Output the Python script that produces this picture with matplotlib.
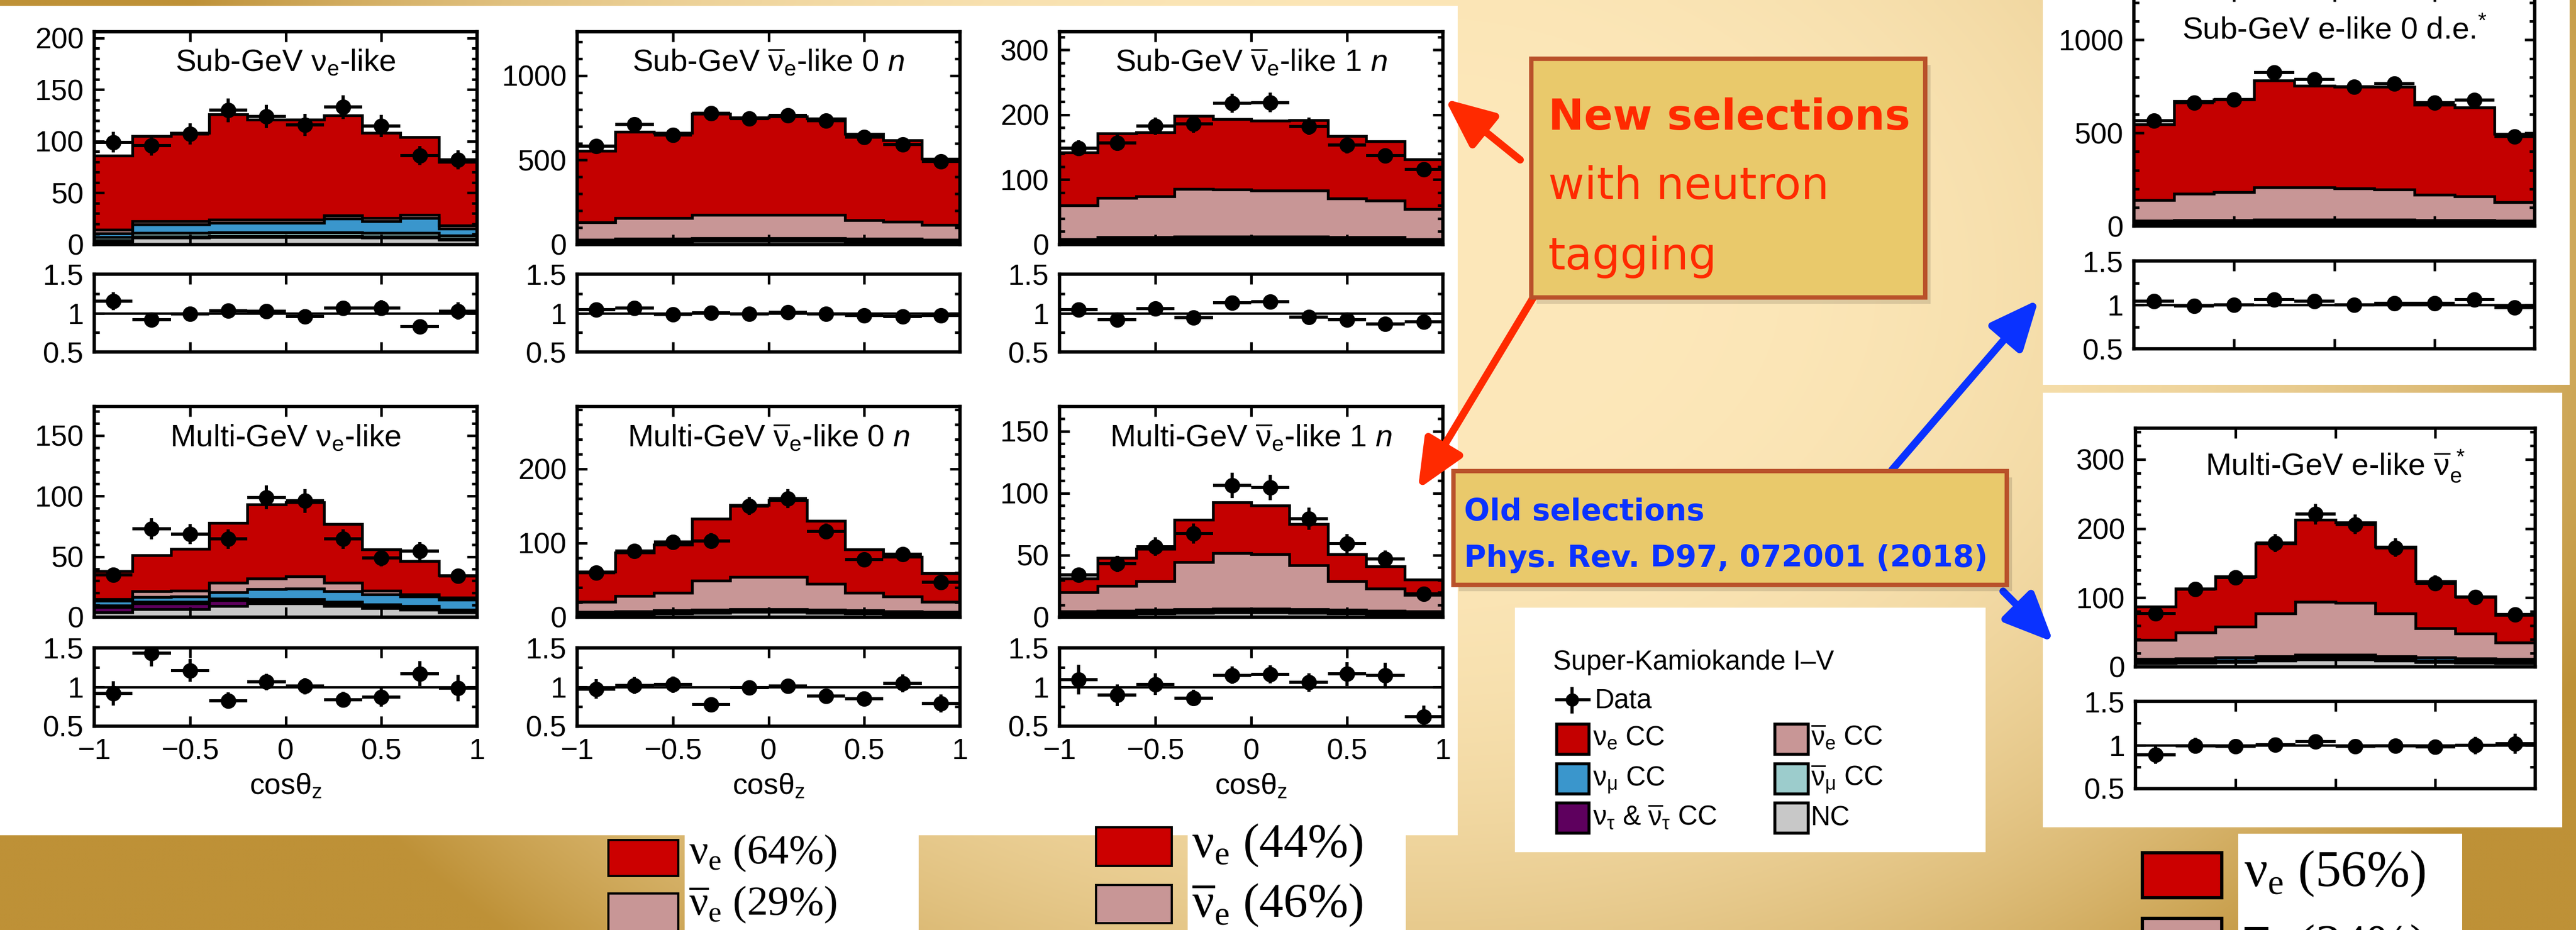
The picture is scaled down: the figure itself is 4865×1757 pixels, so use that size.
import numpy as np
import matplotlib
matplotlib.use('Agg')
import matplotlib.pyplot as plt
from matplotlib.patches import Rectangle, FancyArrowPatch
from matplotlib.ticker import MultipleLocator, FixedLocator, FuncFormatter, NullLocator

plt.rcParams['font.family'] = ['Liberation Sans', 'DejaVu Sans']
plt.rcParams['mathtext.fontset'] = 'custom'
plt.rcParams['mathtext.rm'] = 'Liberation Sans'
plt.rcParams['mathtext.it'] = 'Liberation Sans:italic'
plt.rcParams['mathtext.bf'] = 'Liberation Sans:bold'
plt.rcParams['mathtext.sf'] = 'Liberation Serif'

# ---------------- data (10 bins in cos(theta_z) from -1 to 1) ----------------
edges = np.linspace(-1, 1, 11)

# Sub-GeV nu_e-like
p1_total = [86, 105, 108, 126, 121, 121, 125, 108, 104, 80]
p1_data = [99, 96, 107, 130, 124, 116, 133, 115, 86, 82]
p1_nc = [3, 6.5, 6.5, 7, 7, 7, 7, 6.5, 6.5, 4.5]
p1_nutau = [1, 1, 1, 1, 1, 1, 1, 1, 1, 1]
p1_numubar = [3, 4, 4, 4, 4, 4, 4, 4, 4, 3]
p1_numu = [4, 8, 8, 9, 9, 9, 13, 11, 14, 7]
p1_nuebar = [3.5, 3, 3, 3, 3, 3, 3, 3, 3, 3]

# Sub-GeV nu_e-bar-like 0 n
p2_total = [556, 668, 661, 773, 752, 759, 745, 654, 619, 507]
p2_data = [582, 710, 650, 776, 745, 766, 735, 635, 592, 492]
p2_nc = [14, 18, 18, 22, 22, 22, 22, 18, 18, 14]
p2_nutau = [1, 1, 1, 1, 1, 1, 1, 1, 1, 1]
p2_numubar = [6, 6, 6, 6, 6, 6, 6, 6, 6, 6]
p2_numu = [8, 8, 8, 8, 8, 8, 8, 8, 8, 8]
p2_nuebar = [104, 124, 124, 138, 138, 138, 138, 110, 103, 86]

# Sub-GeV nu_e-bar-like 1 n
p3_total = [142, 171.5, 173, 198, 193, 191, 192, 167, 159, 131]
p3_data = [148.5, 157, 182.5, 186, 218, 219, 182, 153, 137, 116]
p3_nc = [3, 4, 4, 5, 5, 5, 5, 4, 4, 3]
p3_nutau = [0.5, 0.5, 0.5, 0.5, 0.5, 0.5, 0.5, 0.5, 0.5, 0.5]
p3_numubar = [2, 3, 3, 3, 3, 3, 3, 3, 3, 2]
p3_numu = [3, 4, 4, 4, 4, 4, 4, 4, 4, 3]
p3_nuebar = [51.5, 60.5, 62.5, 73.5, 72.5, 70.5, 70.5, 59.5, 56, 46.5]

# Multi-GeV nu_e-like
p4_total = [38, 51, 56.5, 78, 93, 95, 77, 56, 46.5, 34.5]
p4_data = [35, 73, 68.5, 64.5, 99, 96, 64.5, 49, 54.5, 34]
p4_nc = [4, 6.5, 6.5, 9, 11.5, 11.5, 9, 7.5, 6, 4]
p4_nutau = [4.5, 5, 5, 5, 2, 2, 2, 1.5, 1.5, 1]
p4_numubar = [1, 1, 1, 1.5, 1.5, 1.5, 1.5, 1.5, 1.5, 1]
p4_numu = [4, 4, 4.5, 5, 8, 8.5, 9, 8.5, 8, 8.5]
p4_nuebar = [1.5, 5, 5, 8, 9, 10, 7, 3, 2, 1.5]

# Multi-GeV nu_e-bar-like 0 n
p5_total = [61.5, 87, 98, 133, 151, 158, 130, 91.5, 81, 59.5]
p5_data = [60, 89, 101, 103, 150, 160, 115.5, 78, 85, 47]
p5_nc = [3, 4, 5, 6, 7, 7, 6, 5, 4, 3]
p5_nutau = [0.5, 0.5, 0.5, 0.5, 0.5, 0.5, 0.5, 0.5, 0.5, 0.5]
p5_numubar = [1.5, 1.5, 1.5, 1.5, 1.5, 1.5, 1.5, 1.5, 1.5, 1.5]
p5_numu = [2, 2, 2, 2, 2, 2, 2, 2, 2, 2]
p5_nuebar = [14, 20.7, 24, 39, 43, 43, 35, 24, 20, 14]

# Multi-GeV nu_e-bar-like 1 n
p6_total = [31, 48, 55, 78.6, 92.6, 90, 75, 51, 41, 30.5]
p6_data = [34, 43, 57, 67.5, 106.5, 104.5, 79.5, 59.5, 47, 19]
p6_nc = [2, 2.5, 3, 3.5, 4, 4, 3.5, 3, 2.5, 2]
p6_nutau = [0.3, 0.3, 0.3, 0.3, 0.3, 0.3, 0.3, 0.3, 0.3, 0.3]
p6_numubar = [1, 1, 1, 1, 1, 1, 1, 1, 1, 1]
p6_numu = [1.5, 1.5, 1.5, 1.5, 1.5, 1.5, 1.5, 1.5, 1.5, 1.5]
p6_nuebar = [15.2, 19.7, 23.2, 38.3, 44.7, 43.9, 35.7, 23.2, 17.7, 13.2]

# Sub-GeV e-like 0 d.e. (old selection)
r1_total = [545, 672, 681, 781, 753, 747, 749, 651, 638, 495]
r1_data = [567, 662, 681, 826, 787, 747, 764, 664, 676, 480]
r1_nc = [12, 15, 15, 18, 18, 18, 18, 15, 15, 12]
r1_nutau = [1, 1, 1, 1, 1, 1, 1, 1, 1, 1]
r1_numubar = [6, 6, 6, 6, 6, 6, 6, 6, 6, 6]
r1_numu = [10, 10, 10, 10, 10, 10, 10, 10, 10, 10]
r1_nuebar = [111, 142, 149, 173, 173, 167, 160, 136, 126, 98]

# Multi-GeV e-like nu_e-bar (old selection)
r2_total = [87.5, 113.5, 131, 178.5, 212.5, 209, 174, 124, 101.5, 75]
r2_data = [77.5, 112.5, 129, 179, 221, 206, 172.5, 121, 101, 76]
r2_nc = [5, 6, 7, 9, 11, 11, 9, 7, 6, 5]
r2_nutau = [0.5, 0.5, 0.5, 0.5, 0.5, 0.5, 0.5, 0.5, 0.5, 0.5]
r2_numubar = [2, 2, 2, 2, 2, 2, 2, 2, 2, 2]
r2_numu = [4, 4, 4, 4, 4, 4, 4, 4, 4, 4]
r2_nuebar = [27.5, 37.5, 45, 62, 76.5, 75, 62, 42.5, 36, 23.5]

C_NUE = '#c40000'
C_NUEBAR = '#c89696'
C_NUMU = '#3a96cc'
C_NUMUBAR = '#9ccccc'
C_NUTAU = '#5e005e'
C_NC = '#c8c8c8'

NUBAR = r'$\overline{\mathrm{\nu}}$'

W, H = 4865, 1757
fig = plt.figure(figsize=(W / 100, H / 100), dpi=100)

# ---------------- background ----------------
bg = fig.add_axes([0, 0, 1, 1], zorder=-10)
gx = np.linspace(0, 1, 487)
gy = np.linspace(0, 1, 176)
X, Y = np.meshgrid(gx, gy)
t = np.clip(np.sqrt(((X - 0.55) / 0.5) ** 2 + ((Y - 0.3) / 1.0) ** 2), 0, 1) ** 3
cream = np.array([253, 232, 186]) / 255
gold = np.array([190, 145, 55]) / 255
grad = cream * (1 - t[..., None]) + gold * t[..., None]
bg.imshow(grad, extent=(0, W, H, 0), aspect='auto', interpolation='bilinear')
bg.set_xlim(0, W)
bg.set_ylim(H, 0)
bg.axis('off')
for (x, y, w, h) in [(0, 11, 2753, 1567), (3858, 0, 995, 727), (3858, 742, 981, 821)]:
    bg.add_patch(Rectangle((x, y), w, h, fc='white', ec='none'))

LW = 3.8
fmt_num = FuncFormatter(lambda v, p: f'{v:g}'.replace('-', '\u2212'))


def setup_ticks(ax, ymaj, ymin):
    ax.set_xlim(-1, 1)
    ax.xaxis.set_major_locator(FixedLocator([-1, -0.5, 0, 0.5, 1]))
    ax.xaxis.set_minor_locator(NullLocator())
    ax.yaxis.set_major_locator(MultipleLocator(ymaj))
    ax.yaxis.set_minor_locator(MultipleLocator(ymin))
    ax.yaxis.set_major_formatter(fmt_num)
    ax.xaxis.set_major_formatter(fmt_num)
    ax.tick_params(which='both', direction='in', top=True, right=True, width=3.5,
                   labelsize=40, pad=14)
    ax.tick_params(which='major', length=14)
    ax.tick_params(which='minor', length=7)
    for s in ax.spines.values():
        s.set_linewidth(4.6)


def panel(px, main_y, ratio_y, ylim, ymaj, ymin, title, title_y,
          nc, nutau, numubar, numu, nuebar, total, data, xlabels):
    x0, x1 = px
    yt, yb = main_y
    ax = fig.add_axes([x0 / W, 1 - yb / H, (x1 - x0) / W, (yb - yt) / H])
    comps = [(nc, C_NC), (nutau, C_NUTAU), (numubar, C_NUMUBAR), (numu, C_NUMU),
             (nuebar, C_NUEBAR)]
    cum = np.zeros(10)
    tops = []
    for vals, col in comps:
        top = cum + np.asarray(vals, float)
        ax.stairs(top, edges, baseline=cum, fill=True, color=col, lw=0, zorder=1)
        tops.append(top)
        cum = top
    tot = np.asarray(total, float)
    ax.stairs(tot, edges, baseline=cum, fill=True, color=C_NUE, lw=0, zorder=1)
    tops.append(tot)
    for top in tops:
        ax.stairs(top, edges, baseline=None, color='k', lw=LW, zorder=2)
    d = np.asarray(data, float)
    centers = 0.5 * (edges[1:] + edges[:-1])
    ax.errorbar(centers, d, yerr=np.sqrt(d), xerr=np.diff(edges) / 2, fmt='o', color='k',
                ms=20, elinewidth=4.3, capsize=0, zorder=5)
    ax.set_ylim(*ylim)
    setup_ticks(ax, ymaj, ymin)
    ax.tick_params(axis='x', labelbottom=False)
    ax.text(0.5, (yb - title_y) / (yb - yt), title, transform=ax.transAxes,
            ha='center', va='baseline', fontsize=42, zorder=6)

    rt, rb = ratio_y
    ar = fig.add_axes([x0 / W, 1 - rb / H, (x1 - x0) / W, (rb - rt) / H])
    ar.axhline(1, color='k', lw=3.3, zorder=3)
    ar.errorbar(centers, d / tot, yerr=np.sqrt(d) / tot, xerr=np.diff(edges) / 2, fmt='o',
                color='k', ms=20, elinewidth=4.3, capsize=0, zorder=5)
    ar.set_ylim(0.5, 1.5)
    setup_ticks(ar, 0.5, 0.25)
    ar.tick_params(axis='x', labelbottom=xlabels, pad=16)
    return ax, ar


TOP_M, TOP_R = (60, 462), (518, 665)
BOT_M, BOT_R = (768, 1166), (1224, 1372)
COLS = [(178, 901), (1090, 1813), (2001, 2725)]

panel(COLS[0], TOP_M, TOP_R, (0, 206), 50, 10, r'Sub-GeV $\mathrm{\nu}_\mathrm{e}$-like', 134,
      p1_nc, p1_nutau, p1_numubar, p1_numu, p1_nuebar, p1_total, p1_data, False)
panel(COLS[1], TOP_M, TOP_R, (0, 1260), 500, 100,
      r'Sub-GeV $\overline{\mathrm{\nu}}_\mathrm{e}$-like 0 $n$', 134,
      p2_nc, p2_nutau, p2_numubar, p2_numu, p2_nuebar, p2_total, p2_data, False)
panel(COLS[2], TOP_M, TOP_R, (0, 328), 100, 20,
      r'Sub-GeV $\overline{\mathrm{\nu}}_\mathrm{e}$-like 1 $n$', 134,
      p3_nc, p3_nutau, p3_numubar, p3_numu, p3_nuebar, p3_total, p3_data, False)
panel(COLS[0], BOT_M, BOT_R, (0, 174), 50, 10, r'Multi-GeV $\mathrm{\nu}_\mathrm{e}$-like', 843,
      p4_nc, p4_nutau, p4_numubar, p4_numu, p4_nuebar, p4_total, p4_data, True)
panel(COLS[1], BOT_M, BOT_R, (0, 284), 100, 20,
      r'Multi-GeV $\overline{\mathrm{\nu}}_\mathrm{e}$-like 0 $n$', 843,
      p5_nc, p5_nutau, p5_numubar, p5_numu, p5_nuebar, p5_total, p5_data, True)
panel(COLS[2], BOT_M, BOT_R, (0, 170), 50, 10,
      r'Multi-GeV $\overline{\mathrm{\nu}}_\mathrm{e}$-like 1 $n$', 843,
      p6_nc, p6_nutau, p6_numubar, p6_numu, p6_nuebar, p6_total, p6_data, True)
panel((4030, 4787), (-16, 427), (493, 659), (0, 1260), 500, 100,
      r'Sub-GeV e-like 0 d.e.$^{*}$', 72,
      r1_nc, r1_nutau, r1_numubar, r1_numu, r1_nuebar, r1_total, r1_data, False)
panel((4033, 4788), (809, 1260), (1325, 1490), (0, 345), 100, 20,
      r'Multi-GeV e-like $\overline{\mathrm{\nu}}_\mathrm{e}^{\,*}$', 897,
      r2_nc, r2_nutau, r2_numubar, r2_numu, r2_nuebar, r2_total, r2_data, False)

# ---------------- foreground annotations ----------------
fg = fig.add_axes([0, 0, 1, 1], zorder=10)
fg.set_xlim(0, W)
fg.set_ylim(H, 0)
fg.axis('off')
fg.patch.set_alpha(0)

for (x0, x1) in COLS:
    fg.text((x0 + x1) / 2, 1500, r'cos$\mathrm{\theta}_\mathrm{z}$', ha='center', va='baseline',
            fontsize=40)

RED = '#ff2a00'
BLUE = '#0a32ff'


def arrow(p0, p1, color):
    fg.add_patch(FancyArrowPatch(p0, p1, arrowstyle='-|>,head_length=1.4,head_width=0.62',
                                 mutation_scale=40, color=color, lw=10,
                                 shrinkA=0, shrinkB=0, zorder=2))


arrow((2871, 302), (2729, 187), RED)
arrow((2900, 555), (2678, 924), RED)
arrow((3573, 888), (3850, 566), BLUE)
arrow((3783, 1117), (3878, 1213), BLUE)

BOX_FC = '#e9c96b'
BOX_EC = '#b9512a'
fg.add_patch(Rectangle((2902, 123), 744, 451, fc=(0, 0, 0, 0.12), ec='none', zorder=3))
fg.add_patch(Rectangle((2892, 111), 744, 451, fc=BOX_FC, ec=BOX_EC, lw=6, zorder=4))
fg.text(2924, 245, 'New selections', color=RED, fontsize=58, fontweight='bold',
        family='DejaVu Sans', va='baseline', zorder=5)
fg.text(2924, 376, 'with neutron', color=RED, fontsize=60, family='DejaVu Sans',
        va='baseline', zorder=5)
fg.text(2924, 509, 'tagging', color=RED, fontsize=60, family='DejaVu Sans',
        va='baseline', zorder=5)

fg.add_patch(Rectangle((2755, 902), 1045, 215, fc=(0, 0, 0, 0.12), ec='none', zorder=3))
fg.add_patch(Rectangle((2745, 890), 1045, 215, fc=BOX_FC, ec=BOX_EC, lw=6, zorder=4))
fg.text(2765, 983, 'Old selections', color=BLUE, fontsize=41, fontweight='bold',
        family='DejaVu Sans', va='baseline', zorder=5)
fg.text(2765, 1071, 'Phys. Rev. D97, 072001 (2018)', color=BLUE, fontsize=41,
        fontweight='bold', family='DejaVu Sans', va='baseline', zorder=5)

# Super-K legend
fg.add_patch(Rectangle((2861, 1148), 889, 462, fc='white', ec='none', zorder=3))
fg.text(2933, 1265, 'Super-Kamiokande I\u2013V', fontsize=37, va='baseline', zorder=5)
fg.plot([2940, 3001], [1322, 1322], color='k', lw=4.3, zorder=5)
fg.plot([2969, 2969], [1301, 1345], color='k', lw=4.3, zorder=5)
fg.plot([2969], [1322], 'o', color='k', ms=17, zorder=6)
fg.text(3012, 1337, 'Data', fontsize=37, va='baseline', zorder=5)
leg_rows = [
    (C_NUE, r'$\mathrm{\nu}_\mathrm{e}$ CC', C_NUEBAR, NUBAR + r'$_\mathrm{e}$ CC'),
    (C_NUMU, r'$\mathrm{\nu}_\mathrm{\mu}$ CC', C_NUMUBAR, NUBAR + r'$_\mathrm{\mu}$ CC'),
    (C_NUTAU, r'$\mathrm{\nu}_\mathrm{\tau}$ & ' + NUBAR + r'$_\mathrm{\tau}$ CC', C_NC, 'NC'),
]
for (cl, tl, cr, tr), ytop, ybase in zip(leg_rows, [1368, 1443, 1517], [1408, 1485, 1559]):
    fg.add_patch(Rectangle((2940, ytop), 61, 57, fc=cl, ec='k', lw=4, zorder=5))
    fg.add_patch(Rectangle((3352, ytop), 63, 57, fc=cr, ec='k', lw=4, zorder=5))
    fg.text(3008, ybase, tl, fontsize=37, va='baseline', zorder=5)
    fg.text(3420, ybase, tr, fontsize=37, va='baseline', zorder=5)

# bottom fraction legends
NUE_S = r'$\mathsf{\nu}_\mathsf{e}$'
NUEBAR_S = r'$\overline{\mathsf{\nu}}_\mathsf{e}$'
bottom_legends = [
    ((1293, 1578, 442, 179), 1149, 132, (1587, 68), (1688, 75), 1301, (1612, 1710), 57,
     NUE_S + ' (64%)', NUEBAR_S + ' (29%)', 3),
    ((2243, 1578, 412, 179), 2070, 143, (1563, 73), (1672, 72), 2251, (1597, 1710), 66,
     NUE_S + ' (44%)', NUEBAR_S + ' (46%)', 3),
    ((4227, 1575, 423, 182), 4046, 150, (1611, 85), (1735, 60), 4238, (1651, 1790), 70,
     NUE_S + ' (56%)', NUEBAR_S + ' (34%)', 4.5),
]
for box, sx, sw, sr, sp, tx, tys, fs, t1, t2, elw in bottom_legends:
    fg.add_patch(Rectangle(box[:2], box[2], box[3], fc='white', ec='none', zorder=3))
    fg.add_patch(Rectangle((sx, sr[0]), sw, sr[1], fc='#cc0000', ec='k', lw=elw, zorder=5))
    fg.add_patch(Rectangle((sx, sp[0]), sw, sp[1], fc=C_NUEBAR, ec='k', lw=elw, zorder=5))
    fg.text(tx, tys[0], t1, fontsize=fs, family='Liberation Serif', va='center', zorder=5)
    fg.text(tx, tys[1], t2, fontsize=fs, family='Liberation Serif', va='center', zorder=5)

fig.savefig('out.png', dpi=100)
